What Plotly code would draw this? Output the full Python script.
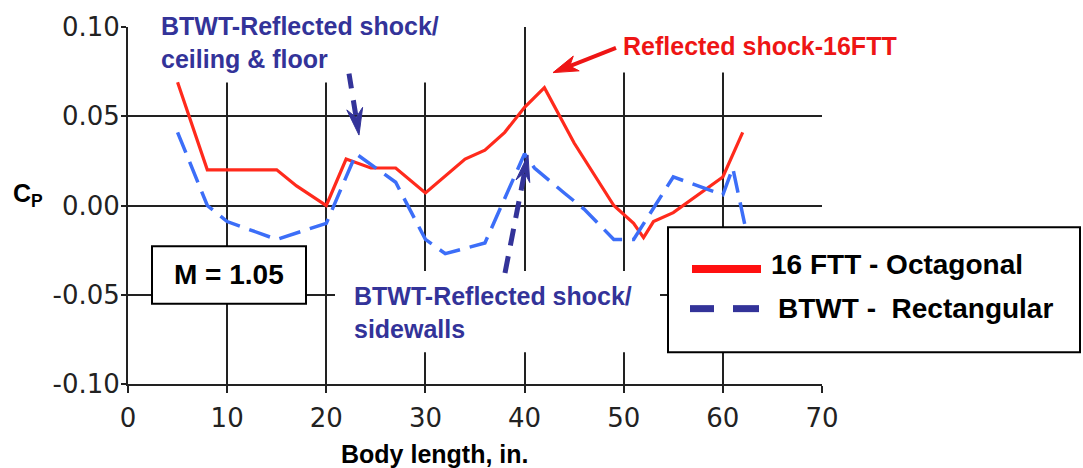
import math
import plotly.graph_objects as go

# Pressure coefficient along the body, M = 1.05
ftt_x = [5, 8, 15, 17, 20, 22, 24.5, 27, 30, 34, 36, 38, 40, 42, 45, 49, 51, 52, 53, 55, 60, 62]
ftt_cp = [0.069, 0.020, 0.020, 0.011, 0.000, 0.026, 0.021, 0.021, 0.007, 0.026, 0.031,
          0.041, 0.055, 0.066, 0.035, 0.000, -0.010, -0.018, -0.009, -0.004, 0.016, 0.041]

btwt_x = [5, 8, 10, 15, 20, 23, 27, 30, 32, 36, 40, 41, 44, 46, 49, 51, 55, 58, 60, 61, 62.3]
btwt_cp = [0.041, 0.000, -0.009, -0.019, -0.010, 0.029, 0.013, -0.019, -0.027, -0.021,
           0.029, 0.021, 0.007, -0.002, -0.019, -0.019, 0.016, 0.010, 0.006, 0.021, -0.013]

x_ticks = [0, 10, 20, 30, 40, 50, 60, 70]
x_tick_text = ["0", "10", "20", "30", "40", "50", "60", "70"]
y_ticks = [-0.10, -0.05, 0.00, 0.05, 0.10]
y_tick_text = ["-0.10", "-0.05", "0.00", "0.05", "0.10"]

series_names = ["16 FTT - Octagonal", "BTWT -&nbsp; Rectangular"]
mach_label = "M = 1.05"
x_title = "Body length, in."

# Page geometry (pixels) and axis ranges
FIG_W, FIG_H = 1083, 468
M_L, M_R, M_T, M_B = 128, 261, 24, 84
AREA_W = FIG_W - M_L - M_R
AREA_H = FIG_H - M_T - M_B
X_RANGE = [0, 70]
Y_RANGE = [-0.10, 0.10]

RED = "#ff2a1c"
RED_TEXT = "#ee1515"
BLUE = "#3c6ef8"
NAVY = "#333399"
GRID = "#222222"
BOLD = "Liberation Sans, Arial, Helvetica, sans-serif"
TICK_FONT = "DejaVu Sans, Verdana, sans-serif"


def to_paper(px, py):
    return (px - M_L) / AREA_W, (FIG_H - M_B - py) / AREA_H


def to_data(px, py):
    xp, yp = to_paper(px, py)
    return (X_RANGE[0] + xp * (X_RANGE[1] - X_RANGE[0]),
            Y_RANGE[0] + yp * (Y_RANGE[1] - Y_RANGE[0]))


def mask(px0, py0, px1, py1):
    """White panel hiding the grid behind a text block."""
    x0, y0 = to_data(px0, py1)
    x1, y1 = to_data(px1, py0)
    return dict(type="rect", xref="x", yref="y", x0=x0, x1=x1, y0=y0, y1=y1,
                fillcolor="white", line=dict(width=0), layer="between")


def box(px0, py0, px1, py1, width=2):
    x0, y0 = to_paper(px0, py1)
    x1, y1 = to_paper(px1, py0)
    return dict(type="rect", xref="paper", yref="paper", x0=x0, x1=x1, y0=y0, y1=y1,
                fillcolor="white", line=dict(color="black", width=width), layer="above")


def seg(p0, p1, color, width, dash="solid"):
    x0, y0 = to_paper(*p0)
    x1, y1 = to_paper(*p1)
    return dict(type="line", xref="paper", yref="paper", x0=x0, y0=y0, x1=x1, y1=y1,
                line=dict(color=color, width=width, dash=dash), layer="above")


def arrow(tail, tip, color, width, dash, head_len, head_half, notch):
    """Shaft plus a barbed arrowhead pointing at tip."""
    dx, dy = tip[0] - tail[0], tip[1] - tail[1]
    n = math.hypot(dx, dy)
    ux, uy = dx / n, dy / n
    vx, vy = -uy, ux
    bx, by = tip[0] - head_len * ux, tip[1] - head_len * uy
    left = (bx + head_half * vx, by + head_half * vy)
    right = (bx - head_half * vx, by - head_half * vy)
    inner = (tip[0] - (head_len - notch) * ux, tip[1] - (head_len - notch) * uy)
    pts = [to_paper(*p) for p in (tip, left, inner, right)]
    path = "M " + " L ".join(f"{x:.5f},{y:.5f}" for x, y in pts) + " Z"
    head = dict(type="path", xref="paper", yref="paper", path=path,
                fillcolor=color, line=dict(color=color, width=1), layer="above")
    shaft = seg(tail, inner, color, width, dash)
    return [shaft, head]


def label(px, py, text, color, size, xanchor="left", yanchor="middle", family=BOLD):
    xp, yp = to_paper(px, py)
    return dict(x=xp, y=yp, xref="paper", yref="paper", text=text, showarrow=False,
                xanchor=xanchor, yanchor=yanchor, align="left",
                font=dict(family=family, size=size, color=color))


fig = go.Figure()
fig.add_trace(go.Scatter(x=ftt_x, y=ftt_cp, mode="lines", name=series_names[0],
                         line=dict(color=RED, width=3.2), showlegend=False))
fig.add_trace(go.Scatter(x=btwt_x, y=btwt_cp, mode="lines", name=series_names[1],
                         line=dict(color=BLUE, width=3.5, dash="22px,10px"),
                         showlegend=False))

shapes = [
    mask(138, -30, 467, 80),
    mask(600, -30, 910, 70),
    mask(335, 270, 660, 352),
    box(152, 245, 306, 303),
    box(668, 226, 1080, 352),
    seg((692, 268), (761, 268), "#ff1010", 8),
    seg((690, 308), (714, 308), NAVY, 7),
    seg((733, 308), (759, 308), NAVY, 7),
]
shapes += arrow((349, 71), (359, 133), NAVY, 5, "15px,12px", 27, 8, 9)
shapes += arrow((505, 272), (528, 153), NAVY, 5, "17px,11px", 27, 7, 9)
shapes += arrow((616, 45), (553, 70), RED_TEXT, 4, "solid", 25, 8, 7)

annotations = [
    label(159, 40, "<b>BTWT-Reflected shock/<br>ceiling &amp; floor</b>", NAVY, 25),
    label(352, 312, "<b>BTWT-Reflected shock/<br>sidewalls</b>", NAVY, 25),
    label(621, 43, "<b>Reflected shock-16FTT</b>", RED_TEXT, 25),
    label(229, 274, f"<b>{mach_label}</b>", "black", 28, xanchor="center"),
    label(769, 263, f"<b>{series_names[0]}</b>", "black", 28),
    label(776, 308, f"<b>{series_names[1]}</b>", "black", 28),
    label(11, 193, "<b>C<sub>P</sub></b>", "black", 25),
    label(435, 455, f"<b>{x_title}</b>", "black", 25, xanchor="center"),
]

fig.update_layout(
    width=FIG_W, height=FIG_H,
    margin=dict(l=M_L, r=M_R, t=M_T, b=M_B, pad=0),
    paper_bgcolor="white", plot_bgcolor="white",
    shapes=shapes, annotations=annotations,
    showlegend=False,
)
fig.update_xaxes(
    range=X_RANGE, tickvals=x_ticks, ticktext=x_tick_text,
    showgrid=True, gridcolor=GRID, gridwidth=1.6, zeroline=False,
    showline=True, linecolor=GRID, linewidth=2,
    ticks="outside", ticklen=7, tickwidth=1.6, tickcolor=GRID,
    ticklabelstandoff=3,
    tickfont=dict(family=TICK_FONT, size=26, color="#222222"),
)
fig.update_yaxes(
    range=Y_RANGE, tickvals=y_ticks, ticktext=y_tick_text,
    showgrid=True, gridcolor=GRID, gridwidth=1.6, zeroline=False,
    showline=True, linecolor=GRID, linewidth=2,
    ticks="outside", ticklen=5, tickwidth=1.6, tickcolor=GRID,
    ticklabelstandoff=-4,
    tickfont=dict(family=TICK_FONT, size=26, color="#222222"),
)

fig.write_html("out.html")
